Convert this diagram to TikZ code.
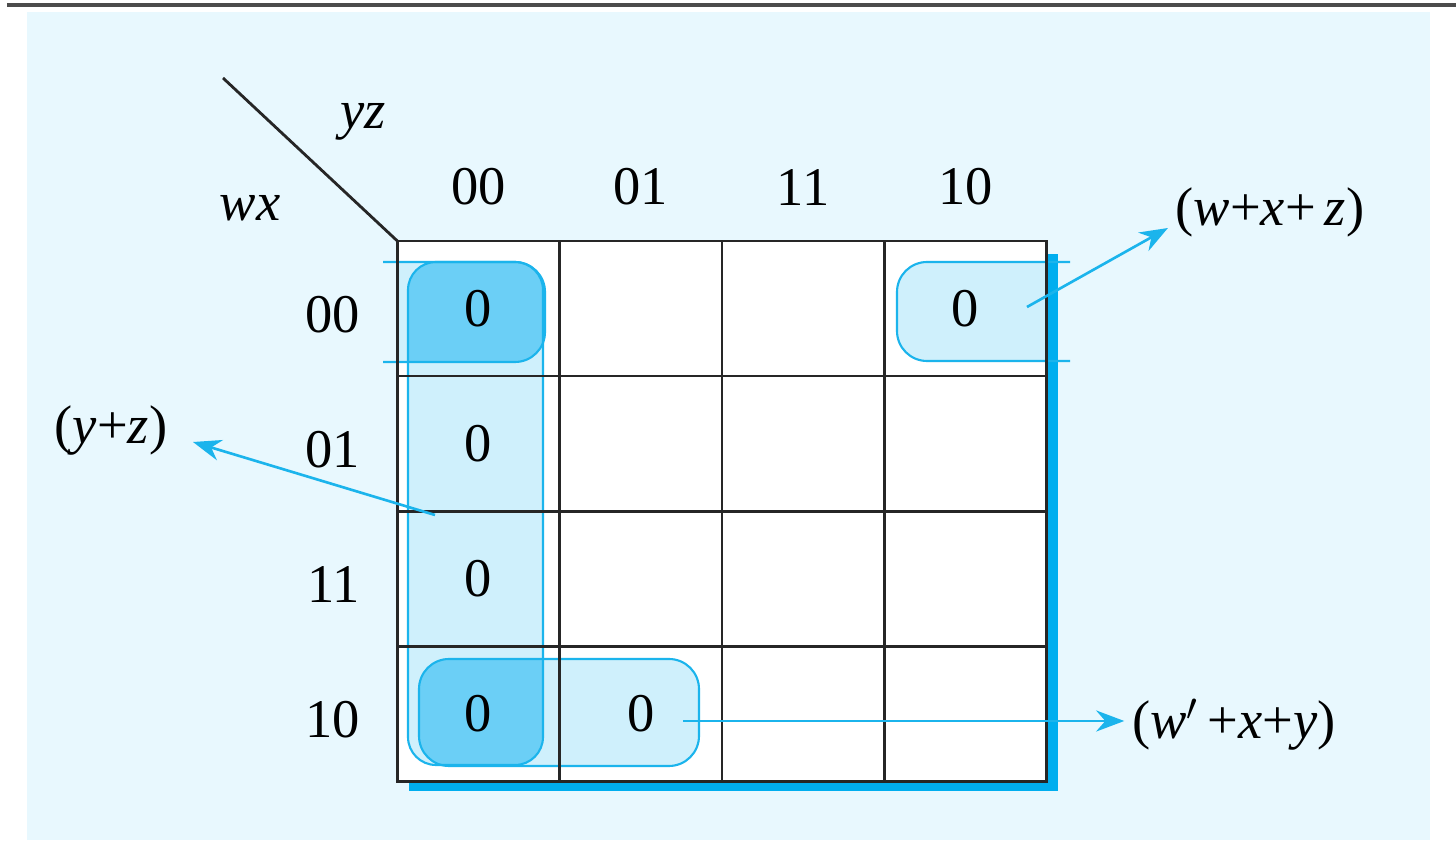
\documentclass[tikz,border=0pt]{standalone}
\usepackage{fontspec}
\setmainfont{Liberation Serif}
\usetikzlibrary{positioning, arrows.meta}
\definecolor{kmapbg}{HTML}{E8F8FE}
\definecolor{kcyan}{HTML}{1BB4EC}
\definecolor{kshadow}{HTML}{00AEEF}
\definecolor{klight}{HTML}{CFF0FC}
\definecolor{kdark}{HTML}{6BCFF6}
\pgfdeclarelayer{maplayer}
\pgfdeclarelayer{grouplayer}
\pgfsetlayers{maplayer,grouplayer,main}
\tikzset{
  cell/.style={
    rectangle,
    draw=black!85, line width=0.8pt,
    minimum width=1.6225cm,
    minimum height=1.35cm,
    inner sep=0pt, outer sep=0pt
  },
  head/.style={
    inner sep=0pt
  },
  term/.style={
    inner sep=2pt
  },
  group/.style={
    draw=kcyan,
    line width=0.6pt
  },
  arrow/.style={
    draw=kcyan,
    line width=0.75pt,
    ->,
    >={Stealth[length=8pt,width=6pt]}
  }
}

\begin{document}
\begin{tikzpicture}[x={(0.01cm,0)}, y={(0,-0.01cm)}, font=\fontsize{15.5}{18}\selectfont]
% K-map of a 4-variable function, product of sums
\useasboundingbox (0,0) rectangle (1456,852);

% cells (row wx, column yz)
\node[cell] (c0000) at (478.5,308.5) {0};
\node[cell, right=0pt of c0000] (c0001) {};
\node[cell, right=0pt of c0001] (c0011) {};
\node[cell, right=0pt of c0011] (c0010) {0};

\node[cell, below=0pt of c0000] (c0100) {0};
\node[cell, right=0pt of c0100] (c0101) {};
\node[cell, right=0pt of c0101] (c0111) {};
\node[cell, right=0pt of c0111] (c0110) {};

\node[cell, below=0pt of c0100] (c1100) {0};
\node[cell, right=0pt of c1100] (c1101) {};
\node[cell, right=0pt of c1101] (c1111) {};
\node[cell, right=0pt of c1111] (c1110) {};

\node[cell, below=0pt of c1100] (c1000) {0};
\node[cell, right=0pt of c1000] (c1001) {0};
\node[cell, right=0pt of c1001] (c1011) {};
\node[cell, right=0pt of c1011] (c1010) {};

% headers
\node[head, above=0.35cm of c0000] (yz00) {00};
\node[head, above=0.35cm of c0001] (yz01) {01};
\node[head, above=0.35cm of c0011] (yz11) {11};
\node[head, above=0.35cm of c0010] (yz10) {10};

\node[head, left=0.37cm of c0000, yshift=-0.06cm] (wx00) {00};
\node[head, left=0.37cm of c0100, yshift=-0.06cm] (wx01) {01};
\node[head, left=0.37cm of c1100, yshift=-0.06cm] (wx11) {11};
\node[head, left=0.37cm of c1000, yshift=-0.06cm] (wx10) {10};

\node[head] (yzlabel) at (363,122) {\textit{yz}};
\node[head] (wxlabel) at (250,208) {\textit{wx}};
\coordinate (corner) at (223,78);
\draw[line width=0.8pt, black!85] (corner) -- (c0000.north west);

% map background and shadow
\begin{pgfonlayer}{maplayer}
  \draw[line width=0.9pt, black!70] (7,5) -- (1456,5);
  \fill[kmapbg] (27,12) rectangle (1430,840);
  \fill[kshadow] ([xshift=0.12cm, yshift=-0.13cm]c0000.north west)
    rectangle ([xshift=0.11cm, yshift=-0.1cm]c1010.south east);
  \fill[white] (c0000.north west) rectangle (c1010.south east);
\end{pgfonlayer}

% groups
\begin{pgfonlayer}{grouplayer}
  \fill[klight, rounded corners=0.28cm] (408,262) rectangle (543,765);
  \fill[klight, rounded corners=0.3cm] (397,262) -- (545,262) -- (545,362) -- (397,362);
  \fill[klight, rounded corners=0.3cm] (1046,262) -- (897,262) -- (897,361) -- (1046,361);
  \fill[klight, rounded corners=0.3cm] (419,659) rectangle (699,766);
  \begin{scope}
    \clip[rounded corners=0.28cm] (408,262) rectangle (543,765);
    \fill[kdark, rounded corners=0.3cm] (397,262) -- (545,262) -- (545,362) -- (397,362);
    \fill[kdark, rounded corners=0.3cm] (419,659) rectangle (699,766);
  \end{scope}
  \draw[group, rounded corners=0.28cm] (408,262) rectangle (543,765);
  \draw[group, rounded corners=0.3cm] (383,262) -- (545,262) -- (545,362) -- (383,362);
  \draw[group, rounded corners=0.3cm] (1070,262) -- (897,262) -- (897,361) -- (1070,361);
  \draw[group, rounded corners=0.3cm] (419,659) rectangle (699,766);
\end{pgfonlayer}

% terms
\node[term] (termA) at (111,430) {(\textit{y}+\textit{z})};
\node[term] (termB) at (1270,212) {(\textit{w}+\textit{x}+\,\textit{z})};
\node[term] (termC) at (1234,725) {(\textit{w}$'$\,+\textit{x}+\textit{y})};

\coordinate (tailA) at (435,515);
\coordinate (tailB) at (1027,307);
\coordinate (tailC) at (683,721);

\draw[arrow] (tailA) -- ([xshift=0.18cm, yshift=-0.12cm]termA.east);
\draw[arrow] (tailB) -- ([yshift=-0.16cm]termB.west);
\draw[arrow] (tailC) -- (tailC -| termC.west);

\end{tikzpicture}
\end{document}
